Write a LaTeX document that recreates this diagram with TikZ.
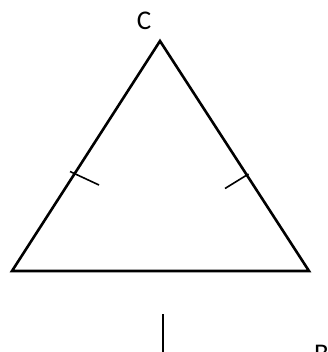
\documentclass[tikz,border=0pt]{standalone}
\usepackage{fontspec}
\setmainfont{Carlito}
\begin{document}
\begin{tikzpicture}[x=1pt,y=-1pt,
  side/.style={line width=2.6pt,line join=miter},
  tick/.style={line width=1.6pt},
  lbl/.style={font=\fontsize{27}{27}\selectfont,inner sep=0pt}]
\useasboundingbox (0,0) rectangle (328,352);
\clip (0,0) rectangle (328,352);
\coordinate (C) at (160,41);
\coordinate (A) at (12,271);
\coordinate (Bv) at (309,271);
\draw[side] (A) -- (C) -- (Bv) -- cycle;
\coordinate (t1a) at (70,171.5);
\coordinate (t1b) at (99,185);
\coordinate (t2a) at (248.5,174);
\coordinate (t2b) at (225,188.5);
\draw[tick] (t1a) -- (t1b);
\draw[tick] (t2a) -- (t2b);
\node[lbl,anchor=base] (lc) at (144,29.5) {C};
\node[lbl,anchor=base west] (lb) at (314,362) {B};
\coordinate (v1) at (163,314);
\coordinate (v2) at (163,352);
\draw[tick] (v1) -- (v2);
\end{tikzpicture}
\end{document}
